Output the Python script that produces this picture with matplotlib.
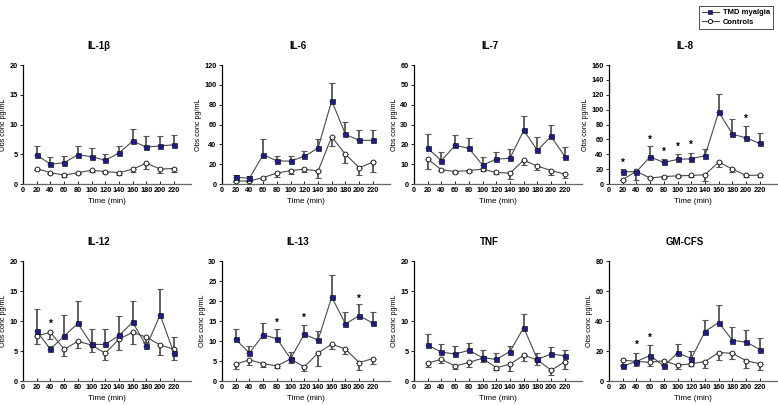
import matplotlib
matplotlib.use("Agg")
import matplotlib.pyplot as plt
from matplotlib.lines import Line2D

plt.rcParams['font.family'] = ['Liberation Sans', 'DejaVu Sans']
plt.rcParams['font.weight'] = 'bold'

# ---------------- data ----------------
time = [20, 40, 60, 80, 100, 120, 140, 160, 180, 200, 220]

il1b_tmd = [4.9, 3.3, 3.6, 4.9, 4.6, 4.0, 5.2, 7.2, 6.2, 6.4, 6.6]
il1b_tmd_err = [1.5, 1.2, 1.1, 1.5, 1.4, 1.1, 1.2, 2.0, 1.8, 1.7, 1.6]
il1b_ctl = [2.6, 1.9, 1.5, 1.9, 2.3, 2.1, 1.9, 2.5, 3.5, 2.5, 2.6]
il1b_ctl_err = [0.3, 0.3, 0.4, 0.3, 0.3, 0.3, 0.4, 0.4, 1.0, 0.6, 0.6]
il1b_stars = []

il6_tmd = [6.8, 5.8, 29.5, 23.4, 23, 28, 36, 84, 50, 44, 44]
il6_tmd_err = [2.2, 2.0, 15.5, 4.4, 4.8, 5.5, 9, 18, 13, 10, 10]
il6_ctl = [3, 3, 6.5, 11, 13.5, 15, 13, 47.5, 30, 16.5, 22]
il6_ctl_err = [1, 1, 1, 3.5, 3.5, 2.5, 7, 9.5, 9, 7, 10]
il6_stars = []

il7_tmd = [18, 11.8, 19.5, 18, 9.5, 12.5, 13, 27, 17, 24, 13.8]
il7_tmd_err = [7, 4.2, 5, 5, 4, 3.5, 4.5, 7.5, 6.5, 6, 4.7]
il7_ctl = [12.5, 7.2, 6.3, 6.8, 7.5, 5.8, 5.5, 12, 9, 6.8, 5]
il7_ctl_err = [5, 0.7, 0.8, 0.8, 1, 0.6, 3, 2.5, 2, 2.5, 2]
il7_stars = []

il8_tmd = [16.5, 16.5, 36.5, 29, 33, 34, 38, 97, 67, 62, 54.5]
il8_tmd_err = [4, 1.5, 14.5, 5, 7, 8, 9, 24, 21, 16, 14.5]
il8_ctl = [6, 17, 8, 10, 11, 11.5, 12.5, 29.5, 20, 11.5, 12]
il8_ctl_err = [0.5, 11, 0.5, 2, 1.5, 1.5, 8, 6.5, 4, 2, 2]
il8_stars = [(20, 28), (60, 60), (80, 43), (100, 50), (120, 52), (200, 88)]

il12_tmd = [8.3, 5.3, 7.5, 9.6, 6.1, 6.1, 7.6, 9.8, 5.8, 11.0, 4.7]
il12_tmd_err = [3.7, 0.5, 3.5, 3.7, 2.6, 2.6, 3.3, 3.5, 0.5, 4.3, 2.6]
il12_ctl = [7.5, 8.1, 5.3, 6.6, 6.0, 4.6, 7.0, 8.1, 7.3, 6.0, 5.3]
il12_ctl_err = [1.3, 1.1, 1.1, 1.1, 1.2, 1.1, 1.8, 1.9, 0.8, 1.7, 1.8]
il12_stars = [(40, 9.6)]

il13_tmd = [10.4, 7, 11.5, 10.6, 5.6, 11.7, 10.2, 21, 14.3, 16.3, 14.5]
il13_tmd_err = [2.6, 1.7, 3, 2.4, 1.6, 2.3, 2.3, 5.5, 3, 3, 2.8]
il13_ctl = [4.2, 5.3, 4.3, 3.8, 5.5, 3.5, 7, 9.2, 8, 4.6, 5.6]
il13_ctl_err = [1.2, 1.3, 0.8, 0.6, 1, 1, 3.2, 1.2, 1.2, 1.8, 1.4]
il13_stars = [(80, 14.5), (120, 15.8), (200, 20.6)]

tnf_tmd = [6.0, 4.8, 4.5, 5.1, 3.9, 3.6, 4.9, 8.9, 3.6, 4.5, 4.2]
tnf_tmd_err = [1.8, 1.3, 1.3, 1.2, 1.3, 1.0, 1.0, 2.2, 1.0, 1.2, 1.0]
tnf_ctl = [3.0, 3.6, 2.5, 3.1, 3.8, 2.2, 2.8, 4.3, 3.5, 1.8, 3.2]
tnf_ctl_err = [0.7, 0.6, 0.5, 0.7, 0.6, 0.4, 1.1, 0.9, 0.9, 0.8, 1.2]
tnf_stars = []

gm_tmd = [10, 13, 17, 10, 18.7, 15, 33, 39, 27, 26, 21]
gm_tmd_err = [0.5, 6, 7, 0.5, 6.3, 5, 8, 12, 9, 8, 8]
gm_ctl = [14, 13, 12.5, 13.5, 10.5, 11.5, 13, 19, 18.5, 13.5, 11.5]
gm_ctl_err = [3, 3, 2.5, 2.5, 2.5, 1.5, 4.5, 5, 3.5, 4.5, 4]
gm_stars = [(40, 24), (60, 29)]

titles = ['IL-1β', 'IL-6', 'IL-7', 'IL-8', 'IL-12', 'IL-13', 'TNF', 'GM-CFS']
ymax = [20, 120, 60, 160, 20, 30, 20, 80]
ystep = [5, 20, 10, 20, 5, 5, 5, 20]

panels = [
    (il1b_tmd, il1b_tmd_err, il1b_ctl, il1b_ctl_err, il1b_stars),
    (il6_tmd, il6_tmd_err, il6_ctl, il6_ctl_err, il6_stars),
    (il7_tmd, il7_tmd_err, il7_ctl, il7_ctl_err, il7_stars),
    (il8_tmd, il8_tmd_err, il8_ctl, il8_ctl_err, il8_stars),
    (il12_tmd, il12_tmd_err, il12_ctl, il12_ctl_err, il12_stars),
    (il13_tmd, il13_tmd_err, il13_ctl, il13_ctl_err, il13_stars),
    (tnf_tmd, tnf_tmd_err, tnf_ctl, tnf_ctl_err, tnf_stars),
    (gm_tmd, gm_tmd_err, gm_ctl, gm_ctl_err, gm_stars),
]

# ---------------- layout ----------------
W, H = 778, 405
fig = plt.figure(figsize=(W / 100, H / 100), dpi=100)

lefts = [23, 222, 414, 609]
rows = [(65, 184), (261, 381)]   # top / bottom of axes in pixels
axw = 168

line_col = '#4a4a4a'
err_col = '#555555'

for i, (tmd, tmd_e, ctl, ctl_e, stars) in enumerate(panels):
    r, c = divmod(i, 4)
    top, bot = rows[r]
    ax = fig.add_axes([lefts[c] / W, 1 - bot / H, axw / W, (bot - top) / H])

    zeros = [0] * len(time)
    ax.errorbar(time, ctl, yerr=[ctl_e, zeros], fmt='none', ecolor=err_col,
                elinewidth=1.3, capsize=2, capthick=0.8, zorder=2)
    ax.errorbar(time, tmd, yerr=[zeros, tmd_e], fmt='none', ecolor=err_col,
                elinewidth=1.3, capsize=2, capthick=0.8, zorder=2)
    ax.plot(time, ctl, '-o', color=line_col, lw=0.8, ms=3.5,
            mfc='white', mec='black', mew=0.6, zorder=3)
    ax.plot(time, tmd, '-s', color=line_col, lw=0.8, ms=3.6,
            mfc='#1c1c8a', mec='black', mew=0.4, zorder=4)
    for sx, sy in stars:
        ax.text(sx, sy, '*', ha='center', va='center', fontsize=7,
                fontweight='bold')

    ax.set_xlim(0, 245)
    ax.set_ylim(0, ymax[i])
    ax.set_xticks(range(0, 221, 20))
    ax.set_yticks(range(0, ymax[i] + 1, ystep[i]))
    ax.tick_params(labelsize=5.3, length=2, width=0.6, pad=2)
    ax.tick_params(axis='x', direction='in')
    for s in ['top', 'right']:
        ax.spines[s].set_visible(False)
    ax.spines['left'].set_linewidth(0.9)
    ax.spines['bottom'].set_linewidth(0.9)
    ax.spines['bottom'].set_color('#666666')
    ax.set_xlabel('Time (min)', fontsize=5.8, labelpad=3)
    ax.set_ylabel('Obs conc pg/mL', fontsize=5.2, labelpad=1.5)
    ax.text(0.45, 1.16, titles[i], transform=ax.transAxes, ha='center',
            va='center', fontsize=7, fontweight='bold')

handles = [
    Line2D([], [], color=line_col, lw=0.8, marker='s', ms=3,
           mfc='#1c1c8a', mec='black', mew=0.4),
    Line2D([], [], color=line_col, lw=0.8, marker='o', ms=3,
           mfc='white', mec='black', mew=0.6),
]
leg = fig.legend(handles, ['TMD myalgia', 'Controls'], loc='upper right',
                 bbox_to_anchor=(0.999, 0.995), fontsize=5.5, frameon=True,
                 fancybox=False, edgecolor='black', handlelength=2.2,
                 borderpad=0.4, labelspacing=0.3, handletextpad=0.6)
leg.get_frame().set_linewidth(0.6)

fig.savefig('out.png', dpi=100)
